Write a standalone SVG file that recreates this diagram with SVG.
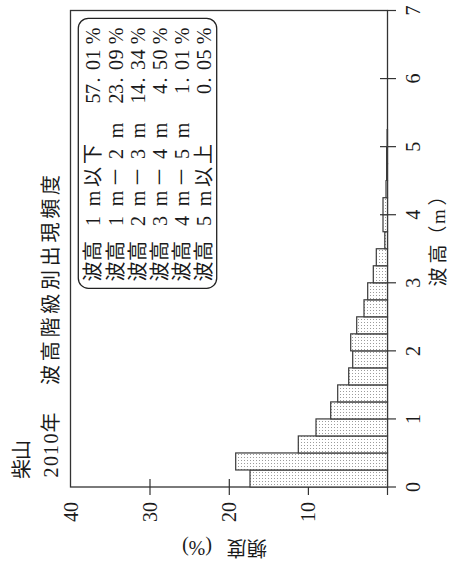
<svg xmlns="http://www.w3.org/2000/svg" width="450" height="562" viewBox="0 0 450 562">
<defs>
<pattern id="dots" width="3" height="3" patternUnits="userSpaceOnUse"><rect width="3" height="3" fill="#fff"/><rect x="1" y="1" width="1" height="1" fill="#9c9c9c"/></pattern>
</defs>
<style>
.ax{stroke:#333;stroke-width:1.3;fill:none}
.tk{stroke:#333;stroke-width:1.2}
.bar{fill:url(#dots);stroke:#3a3a3a;stroke-width:1.2}
text{font-family:'Liberation Serif','Noto Sans CJK JP',serif;font-size:20px;fill:#1a1a1a}
.m{text-anchor:middle}
</style>
<rect width="450" height="562" fill="#fff"/>
<g id="axes">
<rect class="ax" x="70.5" y="10.5" width="317" height="476.5"/>
<g id="ticks">
<line class="tk" x1="150" y1="479" x2="150" y2="495"/>
<line class="tk" x1="229.3" y1="479" x2="229.3" y2="495"/>
<line class="tk" x1="308.4" y1="479" x2="308.4" y2="495"/>
<line class="tk" x1="387.5" y1="487" x2="387.5" y2="495"/>
<line class="tk" x1="387.5" y1="487" x2="396" y2="487"/>
<line class="tk" x1="380" y1="418.93" x2="396" y2="418.93"/>
<line class="tk" x1="380" y1="350.86" x2="396" y2="350.86"/>
<line class="tk" x1="380" y1="282.79" x2="396" y2="282.79"/>
<line class="tk" x1="380" y1="214.72" x2="396" y2="214.72"/>
<line class="tk" x1="380" y1="146.65" x2="396" y2="146.65"/>
<line class="tk" x1="380" y1="78.58" x2="396" y2="78.58"/>
<line class="tk" x1="387.5" y1="10.5" x2="396" y2="10.5"/>
</g>
</g>
<g id="bars">
<rect class="bar" x="250" y="469.98" width="137.5" height="17.02"/>
<rect class="bar" x="235.7" y="452.96" width="151.8" height="17.02"/>
<rect class="bar" x="298.3" y="435.95" width="89.2" height="17.02"/>
<rect class="bar" x="316" y="418.93" width="71.5" height="17.02"/>
<rect class="bar" x="330.7" y="401.91" width="56.8" height="17.02"/>
<rect class="bar" x="337.7" y="384.89" width="49.8" height="17.02"/>
<rect class="bar" x="348.7" y="367.87" width="38.8" height="17.02"/>
<rect class="bar" x="352.7" y="350.86" width="34.8" height="17.02"/>
<rect class="bar" x="350.7" y="333.84" width="36.8" height="17.02"/>
<rect class="bar" x="356.7" y="316.82" width="30.8" height="17.02"/>
<rect class="bar" x="364" y="299.8" width="23.5" height="17.02"/>
<rect class="bar" x="367.7" y="282.78" width="19.8" height="17.02"/>
<rect class="bar" x="373.3" y="265.77" width="14.2" height="17.02"/>
<rect class="bar" x="376.3" y="248.75" width="11.2" height="17.02"/>
<rect class="bar" x="384.8" y="231.73" width="2.7" height="17.02"/>
<rect class="bar" x="383" y="214.71" width="4.5" height="17.02"/>
<rect class="bar" x="383" y="197.69" width="4.5" height="17.02"/>
<rect class="bar" x="386" y="180.68" width="1.5" height="17.02"/>
<rect class="bar" x="386.6" y="163.66" width="0.9" height="17.02"/>
<rect class="bar" x="386.6" y="146.64" width="0.9" height="17.02"/>
<rect class="bar" x="387.1" y="129.62" width="0.4" height="17.02"/>
</g>
<g id="legend">
<rect x="78.3" y="18.3" width="138.4" height="270" rx="10" ry="10" fill="#fff" stroke="#222" stroke-width="1.3"/>
</g>
<g id="labels" transform="translate(0,562) rotate(-90)">
<g id="freq-ticks">
<text class="m" x="50" y="77.5">40</text>
<text class="m" x="50" y="156.8">30</text>
<text class="m" x="50" y="236">20</text>
<text class="m" x="50" y="315.2">10</text>
</g>
<g id="height-ticks">
<text class="m" x="75" y="420">0</text>
<text class="m" x="143.07" y="420">1</text>
<text class="m" x="211.14" y="420">2</text>
<text class="m" x="279.21" y="420">3</text>
<text class="m" x="347.28" y="420">4</text>
<text class="m" x="415.35" y="420">5</text>
<text class="m" x="483.42" y="420">6</text>
<text class="m" x="551.49" y="420">7</text>
</g>
<text id="xlabel" class="m" x="285 308 327 345.5 366" y="445" style="font-size:19px">波高（m）</text>
<text id="station" class="m" x="93 112" y="28.6">柴山</text>
<text id="year" class="m" x="89.6 100.9 112.1 123.4 139.5" y="58">2010年</text>
<text id="title" class="m" x="187 210.75 234.5 258.25 282 305.75 329.5 353.25 377" y="57.6">波高階級別出現頻度</text>
<g id="legend-text">
<text class="m" x="290.5 311 326 341 352 363.5 385 408 440 463.5 473 482 497 507.5 526" y="100.4">波高 1 m以下 57.01%</text>
<text class="m" x="290.5 311 326 341 352 363.5 385 408 420 431.5 450 463.5 473 482 497 507.5 526" y="122.6">波高 1 m－2 m 23.09%</text>
<text class="m" x="290.5 311 326 341 352 363.5 385 408 420 431.5 450 463.5 473 482 497 507.5 526" y="144.8">波高 2 m－3 m 14.34%</text>
<text class="m" x="290.5 311 326 341 352 363.5 385 408 420 431.5 450 473 482 497 507.5 526" y="167">波高 3 m－4 m 4.50%</text>
<text class="m" x="290.5 311 326 341 352 363.5 385 408 420 431.5 450 473 482 497 507.5 526" y="189.2">波高 4 m－5 m 1.01%</text>
<text class="m" x="290.5 311 326 341 352 363.5 385 408 440 473 482 497 507.5 526" y="211.4">波高 5 m以上 0.05%</text>
</g>
</g>
<text id="ylabel" class="m" transform="translate(0,541) rotate(180)"><tspan x="-257">頻</tspan><tspan x="-236.5">度</tspan><tspan x="-197">(%)</tspan></text>
</svg>
